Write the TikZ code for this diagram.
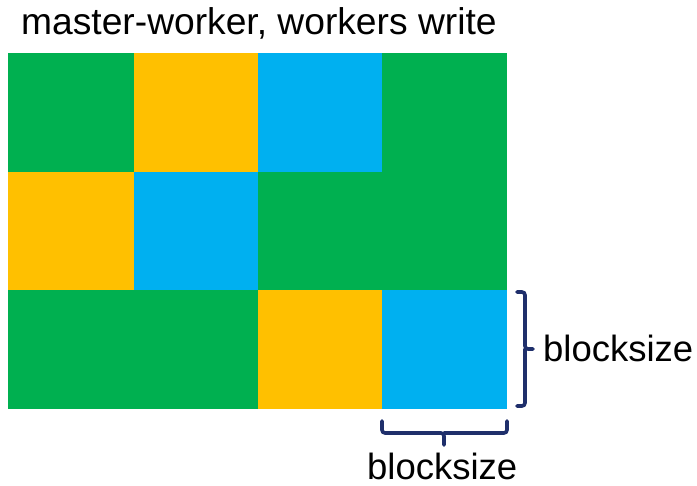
\documentclass[tikz,border=0pt]{standalone}
\usepackage{fontspec}
\setmainfont{Liberation Sans}
\definecolor{cg}{HTML}{00B050}
\definecolor{cy}{HTML}{FFC000}
\definecolor{cb}{HTML}{00B0F0}
\definecolor{navy}{HTML}{1F2F6B}
\begin{document}
\begin{tikzpicture}[x=1pt,y=-1pt,
  brace/.style={draw=navy,line width=3.6pt,rounded corners=3pt,line cap=round},
  lbl/.style={anchor=base west,inner sep=0pt,font=\fontsize{36.5}{40}\selectfont}]
\useasboundingbox (0,0) rectangle (697,486);
% grid
\fill[cg] (8,53) rectangle (134,172);
\fill[cy] (134,53) rectangle (258,172);
\fill[cb] (258,53) rectangle (382,172);
\fill[cg] (382,53) rectangle (507,172);
\fill[cy] (8,172) rectangle (134,290);
\fill[cb] (134,172) rectangle (258,290);
\fill[cg] (258,172) rectangle (507,290);
\fill[cg] (8,290) rectangle (258,409);
\fill[cy] (258,290) rectangle (382,409);
\fill[cb] (382,290) rectangle (507,409);
% title
\node[lbl,font=\fontsize{37.2}{40}\selectfont] (title) at (21,35) {master-worker, workers write};
% right brace
\coordinate (r1) at (517,292);
\coordinate (r2) at (517,406);
\coordinate (rt) at (533,349);
\draw[brace] (r1) -- (525,292) -- (525,349) -- (rt);
\draw[brace] (r2) -- (525,406) -- (525,349);
\node[lbl] (rl) at (543,362) {blocksize};
% bottom brace
\coordinate (b1) at (382,421);
\coordinate (b2) at (507,421);
\coordinate (bt) at (444,445);
\draw[brace] (b1) -- (382,433) -- (444,433) -- (bt);
\draw[brace] (b2) -- (507,433) -- (444,433);
\node[lbl] (bl) at (367,479.5) {blocksize};
\end{tikzpicture}
\end{document}
